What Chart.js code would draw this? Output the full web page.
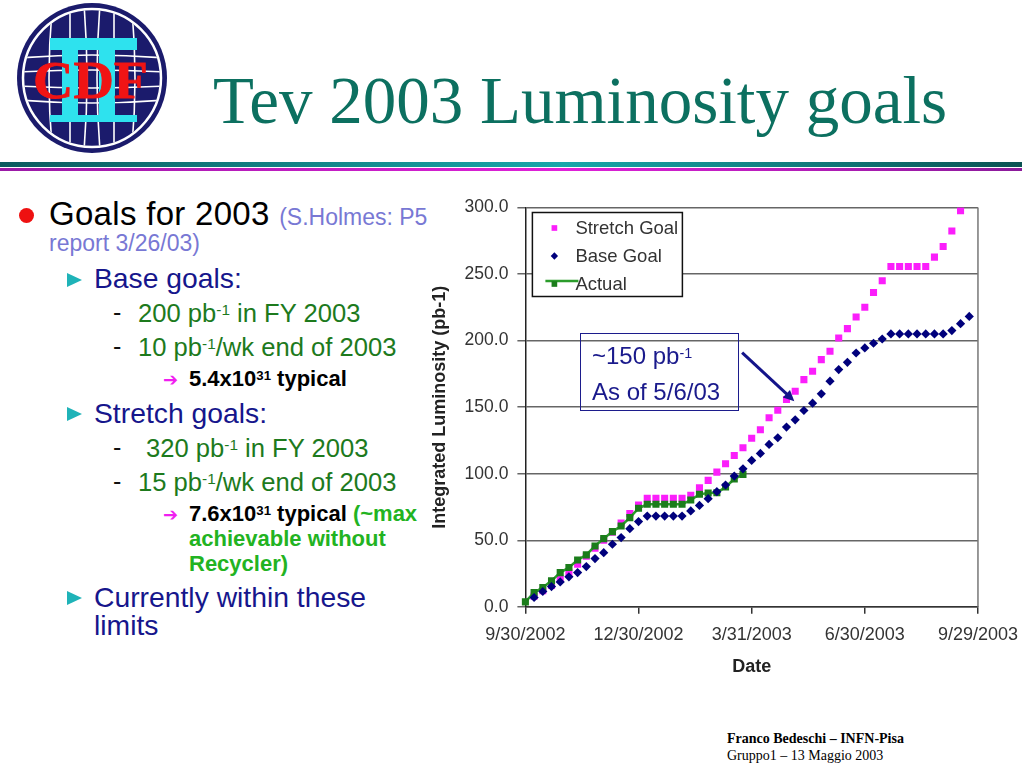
<!DOCTYPE html>
<html>
<head>
<meta charset="utf-8">
<script src="https://cdn.jsdelivr.net/npm/chart.js@4.4.0/dist/chart.umd.min.js"></script>
<style>
body{margin:0;width:1024px;height:768px;background:#fff;position:relative;overflow:hidden;font-family:"Liberation Sans",Arial,sans-serif}
.t{position:absolute;white-space:nowrap;line-height:1}
.sup{position:relative;top:-0.45em;font-size:0.6em}
.navy{color:#16168c}
.green{color:#1d7a1d}
.tri{position:absolute;width:0;height:0;border-left:15px solid #1fb3b8;border-top:7.5px solid transparent;border-bottom:7.5px solid transparent}
.dash{position:absolute;line-height:1;font-size:25px;color:#111}
.arr{position:absolute;line-height:1;font-family:"DejaVu Sans";font-size:18px;font-weight:bold;color:#f01ef0}
#chartBox{position:absolute;left:418px;top:188px;width:610px;height:492px}
#note{position:absolute;left:580px;top:333px;width:157px;height:76px;border:1.5px solid #1c1c8c}
</style>
</head>
<body>

<svg style="position:absolute;left:0;top:0" width="180" height="160">
  <defs><clipPath id="inner"><circle cx="92" cy="78" r="68"/></clipPath></defs>
  <circle cx="92" cy="78" r="75" fill="#1b1b6c"/>
  <circle cx="92" cy="78" r="69" fill="none" stroke="#fff" stroke-width="2.5"/>
  <g clip-path="url(#inner)" stroke="#fff" stroke-width="1.6" fill="none">
    <path d="M20 58 Q92 52 164 58"/>
    <path d="M20 72 Q92 68 164 72"/>
    <path d="M20 86 Q92 90 164 86"/>
    <path d="M20 100 Q92 106 164 100"/>
    <path d="M70 5 L70 150"/>
    <path d="M84 5 Q90 78 84 150"/>
    <path d="M100 5 Q94 78 100 150"/>
    <path d="M114 5 L114 150"/>
    <path d="M52 10 Q46 78 52 146"/>
    <path d="M132 10 Q138 78 132 146"/>
  </g>
  <path d="M50 38 H137 V50 H115 V115 H137 V122 H50 V115 H62 V50 H50 Z M78 50 V115 H99 V50 Z" fill="#2ee2ee" fill-rule="evenodd"/>
  <text x="33" y="98" font-family="Liberation Serif" font-weight="bold" font-size="52" fill="#f01414" stroke="#f01414" stroke-width="0.8" textLength="115" lengthAdjust="spacingAndGlyphs">CDF</text>
</svg>

<div class="t" style="left:213px;top:67px;font-family:'Liberation Serif';font-size:67px;color:#0c7060">Tev 2003 Luminosity goals</div>
<div style="position:absolute;left:0;top:162px;width:1022px;height:4.5px;background:linear-gradient(90deg,#0b5a5e 0%,#17a7aa 55%,#0a5252 100%)"></div>
<div style="position:absolute;left:0;top:167.5px;width:1022px;height:3px;background:linear-gradient(90deg,#9a1aa6 0%,#e021d8 55%,#8a1a9a 100%)"></div>

<div style="position:absolute;left:19px;top:208px;width:15px;height:15px;border-radius:50%;background:#ee1111"></div>
<div class="t" style="left:49px;top:197px;font-size:33px;letter-spacing:0.3px;color:#000">Goals for 2003 <span style="font-size:23px;letter-spacing:0;color:#7878d4">(S.Holmes: P5</span></div>
<div class="t" style="left:49px;top:232px;font-size:23px;color:#7878d4">report 3/26/03)</div>

<div class="tri" style="left:67px;top:273px"></div>
<div class="t navy" style="left:94px;top:264px;font-size:28.3px">Base goals:</div>
<div class="dash" style="left:113px;top:300px">-</div>
<div class="t green" style="left:138px;top:301px;font-size:25.6px">200 pb<span class="sup">-1</span> in FY 2003</div>
<div class="dash" style="left:113px;top:334px">-</div>
<div class="t green" style="left:138px;top:335px;font-size:25.6px">10 pb<span class="sup">-1</span>/wk end of 2003</div>
<div class="arr" style="left:163px;top:371px">&#x2794;</div>
<div class="t" style="left:189px;top:368px;font-size:22px;font-weight:bold;color:#000">5.4x10<span class="sup">31</span> typical</div>

<div class="tri" style="left:67px;top:407px"></div>
<div class="t navy" style="left:94px;top:399px;font-size:28.3px">Stretch goals:</div>
<div class="dash" style="left:113px;top:435px">-</div>
<div class="t green" style="left:146px;top:436px;font-size:25.6px">320 pb<span class="sup">-1</span> in FY 2003</div>
<div class="dash" style="left:113px;top:469px">-</div>
<div class="t green" style="left:138px;top:470px;font-size:25.6px">15 pb<span class="sup">-1</span>/wk end of 2003</div>
<div class="arr" style="left:163px;top:506px">&#x2794;</div>
<div class="t" style="left:189px;top:503px;font-size:22px;font-weight:bold;color:#000">7.6x10<span class="sup">31</span> typical <span style="color:#22b322">(~max</span></div>
<div class="t" style="left:189px;top:528px;font-size:22px;font-weight:bold;color:#22b322">achievable without</div>
<div class="t" style="left:189px;top:553px;font-size:22px;font-weight:bold;color:#22b322">Recycler)</div>

<div class="tri" style="left:67px;top:591px"></div>
<div class="t navy" style="left:94px;top:583px;font-size:28.3px">Currently within these</div>
<div class="t navy" style="left:94px;top:611px;font-size:28.3px">limits</div>

<div id="chartBox"><canvas id="lumiChart"></canvas></div>

<div id="note"></div>
<div class="t" style="left:592px;top:344px;font-size:24px;color:#1a1a8c">~150 pb<span class="sup">-1</span></div>
<div class="t" style="left:592px;top:380px;font-size:24px;color:#1a1a8c">As of 5/6/03</div>

<div class="t" style="left:727px;top:732px;font-family:'Liberation Serif';font-size:14px;font-weight:bold;color:#000">Franco Bedeschi – INFN-Pisa</div>
<div class="t" style="left:727px;top:749px;font-family:'Liberation Serif';font-size:14px;color:#000">Gruppo1 – 13 Maggio 2003</div>

<script>
// weekly categories, one per Monday
const weeks = [
  '9/30/2002', '10/7/2002', '10/14/2002', '10/21/2002', '10/28/2002', '11/4/2002', '11/11/2002',
  '11/18/2002', '11/25/2002', '12/2/2002', '12/9/2002', '12/16/2002', '12/23/2002', '12/30/2002',
  '1/6/2003', '1/13/2003', '1/20/2003', '1/27/2003', '2/3/2003', '2/10/2003', '2/17/2003',
  '2/24/2003', '3/3/2003', '3/10/2003', '3/17/2003', '3/24/2003', '3/31/2003',
  '4/7/2003', '4/14/2003', '4/21/2003', '4/28/2003', '5/5/2003', '5/12/2003', '5/19/2003',
  '5/26/2003', '6/2/2003', '6/9/2003', '6/16/2003', '6/23/2003', '6/30/2003',
  '7/7/2003', '7/14/2003', '7/21/2003', '7/28/2003', '8/4/2003', '8/11/2003', '8/18/2003',
  '8/25/2003', '9/1/2003', '9/8/2003', '9/15/2003', '9/22/2003', '9/29/2003'
];
const tickLabels = ['9/30/2002', '12/30/2002', '3/31/2003', '6/30/2003', '9/29/2003'];
const yTicks = [0, 50, 100, 150, 200, 250, 300];

const stretchGoal = [null, 8, 12, 16, 21, 26, 32, 38, 44, 50, 56, 63, 70, 76.5,
  81.5, 81.5, 81.5, 81.5, 81.5, 83.7, 89.5, 95, 101.2, 107.5, 113.7, 119.5, 126.7, 133,
  142, 147.7, 155.7, 162, 170.7, 177, 185.7, 192, 202, 209, 217.7, 225, 236.2, 245,
  255.7, 255.7, 255.7, 255.7, 255.7, 262.7, 270.7, 282.3, 297.5, null, null];
const baseGoal = [null, 7, 11.5, 15.2, 18.7, 22.5, 25.7, 30.2, 36.2, 40.7, 47, 52, 58.7, 64,
  68.2, 68.2, 68.2, 68.2, 68.2, 72, 76.2, 81.2, 86.5, 91.5, 98.2, 103.7, 110, 115.2,
  122, 127, 135, 140.5, 147.5, 153, 160, 169.5, 178.2, 183.7, 190.7, 194.5, 198, 201.2,
  205, 205, 205, 205, 205, 205, 205, 207.5, 212.7, 218.2, null];
const actual = [3.7, 10.7, 14.5, 19.5, 25.7, 29.5, 35.2, 39, 45.7, 51.2, 56.5, 60.7, 67, 74,
  77, 77, 77, 77, 77, 80.2, 84.5, 85.5, 85.7, 90, 96, 99.5];

// arrow from the note box to the curve, in (week index, pb-1)
const arrowFrom = [24.9, 191];
const arrowTo = [30.9, 154.5];

const colors = { stretch: '#fb1efb', base: '#00007c', actualPt: '#1b7d1b', actualLine: '#2b9c2b' };

const overlay = {
    id: 'overlay',
    afterDraw(chart) {
        const { ctx, chartArea: a, scales } = chart;
        ctx.save();
        // right frame line
        ctx.strokeStyle = '#777';
        ctx.lineWidth = 1.5;
        ctx.beginPath();
        ctx.moveTo(a.right, a.top);
        ctx.lineTo(a.right, a.bottom);
        ctx.stroke();

        // arrow
        const x1 = scales.x.getPixelForValue(arrowFrom[0]), y1 = scales.y.getPixelForValue(arrowFrom[1]);
        const x2 = scales.x.getPixelForValue(arrowTo[0]), y2 = scales.y.getPixelForValue(arrowTo[1]);
        const ang = Math.atan2(y2 - y1, x2 - x1);
        ctx.strokeStyle = '#14148a';
        ctx.fillStyle = '#14148a';
        ctx.lineWidth = 3;
        ctx.beginPath();
        ctx.moveTo(x1, y1);
        ctx.lineTo(x2 - 8 * Math.cos(ang), y2 - 8 * Math.sin(ang));
        ctx.stroke();
        ctx.beginPath();
        ctx.moveTo(x2, y2);
        ctx.lineTo(x2 - 12 * Math.cos(ang - 0.45), y2 - 12 * Math.sin(ang - 0.45));
        ctx.lineTo(x2 - 12 * Math.cos(ang + 0.45), y2 - 12 * Math.sin(ang + 0.45));
        ctx.closePath();
        ctx.fill();

        // legend box
        const lx = a.left + 7, ly = a.top + 5;
        ctx.fillStyle = '#fff';
        ctx.fillRect(lx, ly, 150, 84);
        ctx.strokeStyle = '#111';
        ctx.lineWidth = 1.5;
        ctx.strokeRect(lx, ly, 150, 84);
        ctx.font = '18.5px "Liberation Sans", Arial';
        ctx.textBaseline = 'middle';
        chart.data.datasets.forEach((ds, i) => {
            const cy = ly + 15.5 + i * 28;
            const mx = lx + 22;
            if (ds.showLine) {
                ctx.strokeStyle = ds.borderColor;
                ctx.lineWidth = 2.5;
                ctx.beginPath();
                ctx.moveTo(mx - 9, cy - 3);
                ctx.lineTo(mx + 24, cy - 3);
                ctx.stroke();
            }
            ctx.fillStyle = ds.pointBackgroundColor;
            ctx.strokeStyle = ds.pointBackgroundColor;
            Chart.helpers.drawPoint(ctx, { pointStyle: ds.pointStyle, radius: ds.pointRadius * 0.8, rotation: 0, borderWidth: 0 }, mx, cy);
            ctx.fillStyle = '#333';
            ctx.fillText(ds.label, lx + 43, cy + 1);
        });
        ctx.restore();
    }
};

const ctx = document.getElementById('lumiChart').getContext('2d');
new Chart(ctx, {
    type: 'line',
    data: {
        labels: weeks,
        datasets: [{
            label: 'Stretch Goal',
            data: stretchGoal,
            showLine: false,
            pointStyle: 'rect',
            pointRadius: 5,
            pointBackgroundColor: colors.stretch,
            pointBorderWidth: 0,
            order: 3
        }, {
            label: 'Base Goal',
            data: baseGoal,
            showLine: false,
            pointStyle: 'rectRot',
            pointRadius: 4.6,
            pointBackgroundColor: colors.base,
            pointBorderWidth: 0,
            order: 1
        }, {
            label: 'Actual',
            data: actual,
            showLine: true,
            borderColor: colors.actualLine,
            borderWidth: 2.5,
            tension: 0,
            pointStyle: 'rect',
            pointRadius: 5,
            pointBackgroundColor: colors.actualPt,
            pointBorderWidth: 0,
            order: 2
        }]
    },
    options: {
        responsive: true,
        maintainAspectRatio: false,
        animation: false,
        layout: { padding: { top: 0, right: 0, bottom: 0, left: 0 } },
        plugins: {
            legend: { display: false },
            tooltip: { enabled: false }
        },
        scales: {
            x: {
                type: 'category',
                offset: false,
                grid: {
                    drawOnChartArea: false,
                    tickLength: 7,
                    lineWidth: 1.5,
                    color: c => tickLabels.includes(weeks[c.index]) ? '#333' : 'rgba(0,0,0,0)'
                },
                border: { display: true, color: '#333', width: 1.5 },
                ticks: {
                    autoSkip: false,
                    maxRotation: 0,
                    minRotation: 0,
                    padding: 10,
                    color: '#333',
                    font: { family: '"Liberation Sans", Arial', size: 18 },
                    callback: function (v, i) {
                        const lab = weeks[i];
                        return tickLabels.includes(lab) ? lab : '';
                    }
                },
                title: {
                    display: true,
                    text: 'Date',
                    color: '#222',
                    font: { family: '"Liberation Sans", Arial', size: 18, weight: 'bold' },
                    padding: { top: 1, bottom: 2 }
                }
            },
            y: {
                min: 0,
                max: 300,
                afterBuildTicks: axis => { axis.ticks = yTicks.map(v => ({ value: v })); },
                grid: { color: '#666', lineWidth: 1.5, tickLength: 8 },
                border: { display: true, color: '#222', width: 1.5 },
                ticks: {
                    padding: 9,
                    color: '#333',
                    font: { family: '"Liberation Sans", Arial', size: 17.5 },
                    callback: v => v.toFixed(1)
                },
                title: {
                    display: true,
                    text: 'Integrated Luminosity (pb-1)',
                    color: '#222',
                    font: { family: '"Liberation Sans", Arial', size: 18, weight: 'bold' },
                    padding: { top: 11, bottom: 5 }
                }
            }
        }
    },
    plugins: [overlay]
});
</script>
</body>
</html>
